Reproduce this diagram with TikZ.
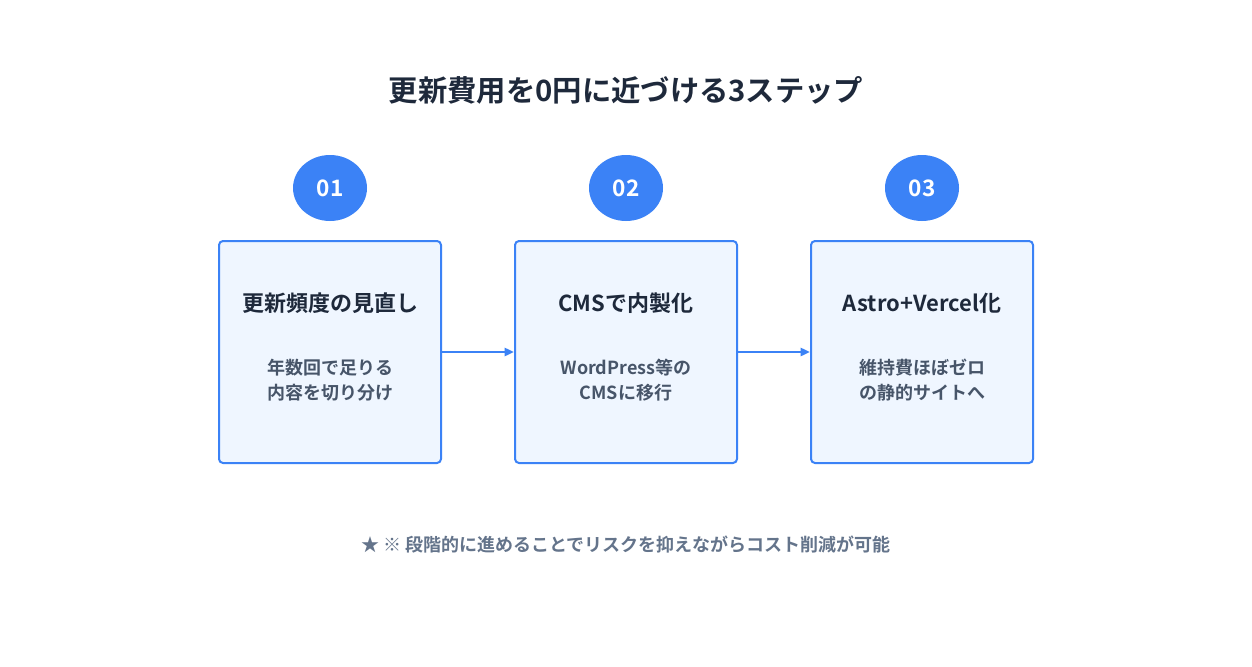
\documentclass[tikz,border=0pt]{standalone}
\usepackage{fontspec}
\setmainfont{Noto Sans CJK JP}[BoldFont={* Bold}]
\usetikzlibrary{shapes.geometric,arrows.meta}
\definecolor{blue}{HTML}{3B82F6}
\definecolor{boxfill}{HTML}{EFF6FF}
\definecolor{dark}{HTML}{1E293B}
\definecolor{mid}{HTML}{475569}
\definecolor{foot}{HTML}{64748B}
\begin{document}
\begin{tikzpicture}[x=0.75pt,y=-0.75pt,
  badge/.style={ellipse,fill=blue,minimum width=55.5pt,minimum height=49.5pt,inner sep=0pt,text=white,font=\bfseries\fontsize{17}{20}\selectfont},
  stepbox/.style={draw=blue,line width=1.5pt,fill=boxfill,rounded corners=3pt,minimum width=166.5pt,minimum height=166.5pt,inner sep=0pt},
  head/.style={text=dark,font=\bfseries\fontsize{16.5}{20}\selectfont},
  sub/.style={text=mid,align=center,font=\bfseries\fontsize{13.5}{19}\selectfont},
  conn/.style={draw=blue,line width=1.8pt,-{Triangle[length=7pt,width=6pt]}}]
\useasboundingbox[fill=white] (0,0) rectangle (1252,667);
\node[text=dark,font=\bfseries\fontsize{22}{26}\selectfont] (title) at (626,90) {更新費用を0円に近づける3ステップ};
\foreach \i/\x/\h/\s in {1/330/更新頻度の見直し/年数回で足りる\\内容を切り分け,2/626/CMSで内製化/WordPress等の\\CMSに移行,3/922/Astro+Vercel化/維持費ほぼゼロ\\の静的サイトへ}{
  \node[badge] (c\i) at (\x,188) {0\i};
  \node[stepbox] (b\i) at (\x,352) {};
  \node[head] (h\i) at (\x,303) {\h};
  \node[sub] (s\i) at (\x,380) {\s};
}
\draw[conn] (b1.east) -- (b2.west);
\draw[conn] (b2.east) -- (b3.west);
\node[text=foot,font=\bfseries\fontsize{13.5}{16}\selectfont] (note) at (626,545) {★ ※ 段階的に進めることでリスクを抑えながらコスト削減が可能};
\end{tikzpicture}
\end{document}
